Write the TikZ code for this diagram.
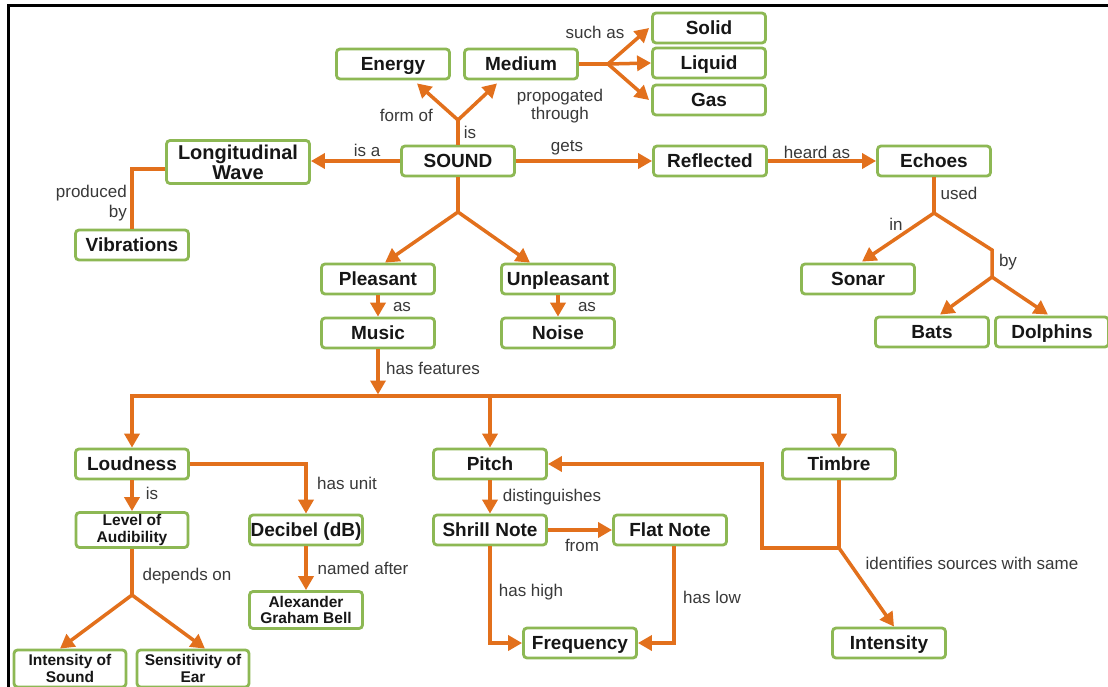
\documentclass[tikz,border=0pt]{standalone}
\usepackage{fontspec}
\setmainfont{Liberation Sans}
\usetikzlibrary{arrows.meta}
\definecolor{orng}{RGB}{226,112,28}
\definecolor{grn}{RGB}{141,184,84}
\definecolor{txt}{RGB}{22,22,22}
\begin{document}
\begin{tikzpicture}[x=1pt,y=-1pt,
 basebox/.style={draw=grn, line width=2.8pt, rounded corners=3.5pt, fill=white, minimum width=113pt, minimum height=30pt, inner sep=0pt, align=center, text=txt, font=\fontsize{19}{19.5}\selectfont\bfseries},
 box/.style={basebox, text height=17.6pt, text depth=4pt},
 sbox/.style={basebox, minimum height=36pt, font=\fontsize{15.5}{16.5}\selectfont\bfseries},
 lbl/.style={text=txt!85, font=\fontsize{17}{18}\selectfont, inner sep=0pt},
 con/.style={draw=orng, line width=3.5pt, line join=miter},
 arr/.style={con, -{Triangle[length=14pt,width=15pt]}}
]
\useasboundingbox (0,0) rectangle (1108,686);
\fill[white] (0,0) rectangle (1108,686);
\draw[line width=3pt, black, line join=miter] (1110,5) -- (8,5) -- (8,690);

% nodes
\node[box] (energy) at (393,64) {Energy};
\node[box] (medium) at (521,64) {Medium};
\node[box] (solid) at (709,28) {Solid};
\node[box] (liquid) at (709,63) {Liquid};
\node[box] (gas) at (709,100) {Gas};
\node[basebox, minimum width=143pt, minimum height=43pt, font=\fontsize{20}{20}\selectfont\bfseries] (lw) at (238,162) {Longitudinal\\Wave};
\node[box] (sound) at (458,161) {SOUND};
\node[box] (refl) at (710,161) {Reflected};
\node[box] (echo) at (934,161) {Echoes};
\node[box] (vib) at (132,245) {Vibrations};
\node[box] (pleas) at (378,279) {Pleasant};
\node[box] (unpl) at (558,279) {Unpleasant};
\node[box] (sonar) at (858,279) {Sonar};
\node[box] (music) at (378,333) {Music};
\node[box] (noise) at (558,333) {Noise};
\node[box] (bats) at (932,332) {Bats};
\node[box] (dolph) at (1052,332) {Dolphins};
\node[box] (loud) at (132,464) {Loudness};
\node[box] (pitch) at (490,464) {Pitch};
\node[box] (timbre) at (839,464) {Timbre};
\node[sbox, minimum width=112pt, minimum height=35pt] (lvl) at (132,530) {Level of\\Audibility};
\node[box] (dec) at (306,530) {Decibel (dB)};
\node[box] (shrill) at (490,530) {Shrill Note};
\node[box] (flat) at (670,530) {Flat Note};
\node[sbox, minimum height=37pt] (agb) at (306,610) {Alexander\\Graham Bell};
\node[box] (freq) at (580,643) {Frequency};
\node[box] (inten) at (889,643) {Intensity};
\node[sbox, minimum width=112pt, minimum height=37pt] (ios) at (70,668.5) {Intensity of\\Sound};
\node[sbox, minimum width=112pt, minimum height=37pt] (soe) at (193,668.5) {Sensitivity of\\Ear};

% junctions
\coordinate (jA) at (458,120);
\coordinate (jB) at (608,64);
\coordinate (jC) at (934,213);
\coordinate (jD) at (992,250);
\coordinate (jE) at (992,277);
\coordinate (jF) at (458,212);
\coordinate (bM) at (378,396);
\coordinate (bP) at (490,396);
\coordinate (jH) at (132,595);
\coordinate (jI) at (839,548);

% connectors
\draw[con] (sound.north) -- (jA);
\draw[arr] (jA) -- ([xshift=24pt,yshift=-3pt]energy.south);
\draw[arr] (jA) -- ([xshift=-24pt,yshift=-3pt]medium.south);
\draw[con] (medium.east) -- (jB);
\draw[arr] (jB) -- ([xshift=-2pt]solid.west);
\draw[arr] (jB) -- (liquid.west);
\draw[arr] (jB) -- ([xshift=-2pt]gas.west);
\draw[arr] (sound.west) -- ([yshift=1pt]lw.east);
\draw[con] ([yshift=-7pt]lw.west) -| (vib.north);
\draw[arr] (sound.east) -- (refl.west);
\draw[arr] (refl.east) -- (echo.west);
\draw[con] (echo.south) -- (jC);
\draw[arr] (jC) -- ([xshift=4pt,yshift=1pt]sonar.north);
\draw[con] (jC) -- (jD) -- (jE);
\draw[arr] (jE) -- ([xshift=8pt,yshift=1pt]bats.north);
\draw[arr] (jE) -- ([xshift=-4pt,yshift=1pt]dolph.north);
\draw[con] (sound.south) -- (jF);
\draw[arr] (jF) -- ([xshift=7pt]pleas.north);
\draw[arr] (jF) -- ([xshift=-28pt]unpl.north);
\draw[arr] (pleas.south) -- (music.north);
\draw[arr] (unpl.south) -- (noise.north);
\draw[arr] (music.south) -- ([yshift=1.5pt]bM);
\draw[arr] (bM) -| (loud.north);
\draw[arr] (bM) -| (timbre.north);
\draw[arr] (bP) -- (pitch.north);
\draw[arr] (loud.east) -| (dec.north);
\draw[arr] (loud.south) -- (lvl.north);
\draw[con] (lvl.south) -- (jH);
\draw[arr] (jH) -- ([xshift=-10pt]ios.north);
\draw[arr] (jH) -- ([xshift=12pt]soe.north);
\draw[arr] (dec.south) -- (agb.north);
\draw[arr] (pitch.south) -- (shrill.north);
\draw[arr] (shrill.east) -- (flat.west);
\draw[arr] (shrill.south) |- (freq.west);
\draw[arr] ([xshift=4pt]flat.south) |- (freq.east);
\draw[con] (timbre.south) -- (jI);
\draw[arr] (jI) -- ++(-77,0) |- (pitch.east);
\draw[arr] (jI) -- ([xshift=5pt]inten.north);

% labels
\node[lbl, anchor=east] (l1) at (433,115) {form of};
\node[lbl] (l2) at (470,132) {is};
\node[lbl] (l3) at (595,32) {such as};
\node[lbl, align=center, font=\fontsize{17}{17.5}\selectfont] (l4) at (560,106) {propogated\\through};
\node[lbl] (l5) at (367,150) {is a};
\node[lbl] (l6) at (567,148) {gets};
\node[lbl] (l7) at (817,152) {heard as};
\node[lbl, anchor=east, align=right, font=\fontsize{17}{19.5}\selectfont] (l8) at (127,203) {produced\\by};
\node[lbl] (l9) at (959,193) {used};
\node[lbl] (l10) at (896,224) {in};
\node[lbl] (l11) at (1008,262) {by};
\node[lbl] (l12) at (402,307) {as};
\node[lbl] (l13) at (587,307) {as};
\node[lbl] (l14) at (433,368) {has features};
\node[lbl] (l15) at (152,493) {is};
\node[lbl] (l16) at (347,483) {has unit};
\node[lbl] (l17) at (187,576) {depends on};
\node[lbl] (l18) at (363,568) {named after};
\node[lbl] (l19) at (552,497) {distinguishes};
\node[lbl] (l20) at (582,545) {from};
\node[lbl] (l21) at (531,592) {has high};
\node[lbl] (l22) at (712,597) {has low};
\node[lbl] (l23) at (972,563) {identifies sources with same};
\end{tikzpicture}
\end{document}
